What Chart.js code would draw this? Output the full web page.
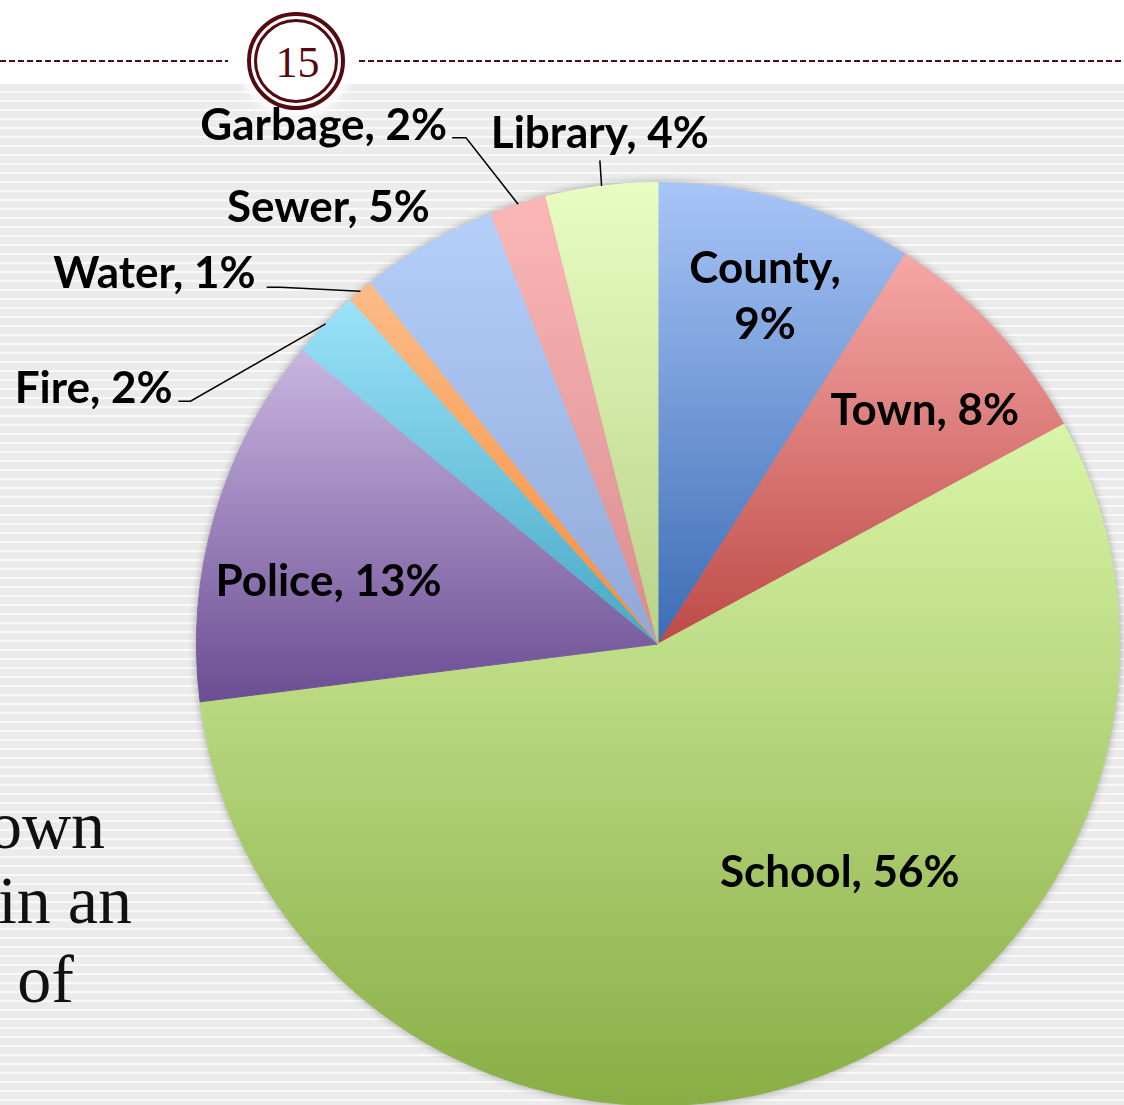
<!DOCTYPE html>
<html>
<head>
<meta charset="utf-8">
<script src="https://cdn.jsdelivr.net/npm/chart.js@4/dist/chart.umd.min.js"></script>
<style>
  html, body { margin: 0; padding: 0; }
  body { width: 1124px; height: 1105px; overflow: hidden; position: relative; background: #fff; }
  #stripes {
    position: absolute; left: 0; top: 84px; width: 1124px; height: 1021px;
    background: repeating-linear-gradient(to bottom, #ebebeb 0px, #ebebeb 7px, #f9f9f9 7px, #f9f9f9 9px);
  }
  .rule {
    position: absolute; top: 60px; height: 2px;
    background: repeating-linear-gradient(to right, #550a10 0px, #550a10 6px, transparent 6px, transparent 9px);
  }
  #halo {
    position: absolute; left: 234px; top: -1px; width: 124px; height: 124px; border-radius: 50%;
    background: radial-gradient(circle, #fff 0px, #fff 50px, rgba(255,255,255,0) 62px);
  }
  #badge {
    position: absolute; left: 247px; top: 12px; width: 98px; height: 98px; box-sizing: border-box;
    border: 4px solid #550a10; border-radius: 50%; background: #fff;
  }
  #badge .inner {
    position: absolute; left: 3px; top: 3px; width: 84px; height: 84px; box-sizing: border-box;
    border: 3.5px solid #550a10; border-radius: 50%;
    font: 44px "Liberation Serif", "DejaVu Serif", serif; color: #550a10;
    display: flex; align-items: center; justify-content: center; padding-left: 3px; padding-top: 2px;
  }
  .body-text {
    position: absolute; font: 68px "Liberation Serif", serif; color: #111;
    white-space: nowrap; text-align: right; line-height: 1;
  }
  #chart { position: absolute; left: 0; top: 0; }
</style>
</head>
<body>
<div id="stripes"></div>
<div class="rule" style="left:0; width:228px;"></div>
<div class="rule" style="left:359px; width:765px;"></div>
<div id="halo"></div>
<div id="badge"><div class="inner">15</div></div>
<div class="body-text" style="right:1019px; top:791px;">Town</div>
<div class="body-text" style="right:992px; top:866px;">in an</div>
<div class="body-text" style="right:1050px; top:945px;">n of</div>
<canvas id="chart" width="1124" height="1106"></canvas>

<script>
const categories = ['County', 'Town', 'School', 'Police', 'Fire', 'Water', 'Sewer', 'Garbage', 'Library'];
const shares = [9.0, 8.1, 55.9, 13.0, 2.4, 0.9, 4.8, 2.0, 3.9];

const topColors = ['#a8c5f7', '#f6a8a6', '#d9f5a8', '#c9b6e0', '#9ae3fa', '#fcbc88', '#b5cffb', '#fbb7b7', '#e8fdc1'];
const bottomColors = ['#3b6cb4', '#bd4a47', '#89ae45', '#6b4d93', '#47a8c4', '#f68d3b', '#8fa8d7', '#d98d8d', '#b9d289'];

// where each label sits, in radius units from the pie centre; line = leader points before the slice edge
const labelLayout = [
    { x: 0.232, y: -0.753, align: 'center', wrap: true },
    { x: 0.578, y: -0.506, align: 'center' },
    { x: 0.394, y: 0.496, align: 'center' },
    { x: -0.714, y: -0.134, align: 'center' },
    { x: -1.052, y: -0.554, align: 'right', line: [[-1.039, -0.526], [-1.013, -0.526]] },
    { x: -0.872, y: -0.803, align: 'right', line: [[-0.848, -0.773], [-0.818, -0.773]] },
    { x: -0.714, y: -0.946, align: 'center' },
    { x: -0.457, y: -1.123, align: 'right', line: [[-0.446, -1.097], [-0.416, -1.097]] },
    { x: -0.126, y: -1.106, align: 'center', line: [[-0.126, -1.048]] }
];

function sliceGradient(context) {
    const chart = context.chart;
    const area = chart.chartArea;
    const i = context.dataIndex;
    if (!area) return bottomColors[i];
    const cx = (area.left + area.right) / 2;
    const cy = (area.top + area.bottom) / 2;
    const r = Math.min(area.width, area.height) / 2;
    const total = shares.reduce((a, b) => a + b, 0);
    let before = 0;
    for (let k = 0; k < i; k++) before += shares[k];
    const t0 = before / total * 2 * Math.PI;
    const t1 = (before + shares[i]) / total * 2 * Math.PI;
    const ys = [cy, cy - r * Math.cos(t0), cy - r * Math.cos(t1)];
    if (t0 <= 0) ys.push(cy - r);
    if (t0 < Math.PI && t1 > Math.PI) ys.push(cy + r);
    const g = chart.ctx.createLinearGradient(0, Math.min(...ys), 0, Math.max(...ys));
    g.addColorStop(0, topColors[i]);
    g.addColorStop(1, bottomColors[i]);
    return g;
}

const pieShadow = {
    id: 'pieShadow',
    beforeDatasetsDraw(chart) {
        const arc = chart.getDatasetMeta(0).data[0];
        if (!arc) return;
        const ctx = chart.ctx;
        ctx.save();
        ctx.shadowColor = 'rgba(0,0,0,0.35)';
        ctx.shadowBlur = 9;
        ctx.fillStyle = '#d8d8d8';
        ctx.beginPath();
        ctx.arc(arc.x, arc.y, arc.outerRadius, 0, Math.PI * 2);
        ctx.fill();
        ctx.restore();
    }
};

const sliceLabels = {
    id: 'sliceLabels',
    afterDatasetsDraw(chart) {
        const ctx = chart.ctx;
        const arcs = chart.getDatasetMeta(0).data;
        ctx.save();
        ctx.font = 'bold 44px Lato, "Open Sans", sans-serif';
        ctx.fillStyle = '#000';
        ctx.strokeStyle = '#000';
        ctx.lineWidth = 1.5;
        ctx.textBaseline = 'middle';
        arcs.forEach((arc, i) => {
            const lay = labelLayout[i];
            const R = arc.outerRadius;
            const cx = arc.x, cy = arc.y;
            const pct = Math.round(shares[i]) + '%';
            if (lay.line) {
                const mid = (arc.startAngle + arc.endAngle) / 2;
                ctx.beginPath();
                lay.line.forEach((p, k) => {
                    const px = cx + p[0] * R, py = cy + p[1] * R;
                    if (k === 0) ctx.moveTo(px, py); else ctx.lineTo(px, py);
                });
                ctx.lineTo(cx + Math.cos(mid) * R, cy + Math.sin(mid) * R);
                ctx.stroke();
            }
            ctx.textAlign = lay.align;
            const tx = cx + lay.x * R, ty = cy + lay.y * R;
            if (lay.wrap) {
                ctx.fillText(categories[i] + ',', tx, ty - 28);
                ctx.fillText(pct, tx, ty + 28);
            } else {
                ctx.fillText(categories[i] + ', ' + pct, tx, ty);
            }
        });
        ctx.restore();
    }
};

new Chart(document.getElementById('chart'), {
    type: 'pie',
    data: {
        labels: categories,
        datasets: [{
            data: shares,
            backgroundColor: sliceGradient,
            borderColor: sliceGradient,
            borderWidth: 1,
            hoverOffset: 0,
            offset: 0
        }]
    },
    options: {
        responsive: false,
        animation: false,
        events: [],
        layout: { padding: { left: 196, right: 4, top: 182, bottom: 0 } },
        plugins: {
            legend: { display: false },
            tooltip: { enabled: false }
        }
    },
    plugins: [pieShadow, sliceLabels]
});
</script>
</body>
</html>
